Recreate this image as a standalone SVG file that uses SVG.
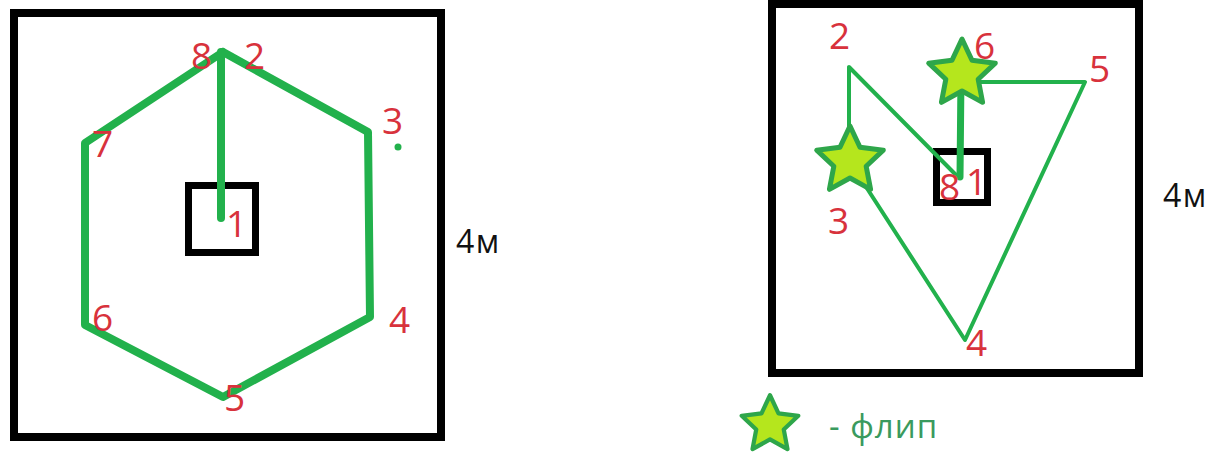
<svg xmlns="http://www.w3.org/2000/svg" width="1215" height="455" viewBox="0 0 1215 455">
<style>
.frame{fill:none;stroke:#000;stroke-width:8}
.small{fill:none;stroke:#000;stroke-width:7}
.path{fill:none;stroke:#22b14c;stroke-linejoin:round;stroke-linecap:round}
.thick{stroke-width:8}
.thin{stroke-width:4}
.lbl{font-family:"Open Sans","Liberation Sans",sans-serif;font-size:37px;fill:#d8323c}
.dim{font-family:"Open Sans","Liberation Sans",sans-serif;font-size:32px;fill:#111;letter-spacing:1.5px}
.leg{font-family:"Open Sans","Liberation Sans",sans-serif;font-size:33px;fill:#3a9a5e;letter-spacing:1px}
.star{fill:#b5e61d;stroke:#2ea64a;stroke-width:5;stroke-linejoin:round}
</style>
<defs>
<path id="star" d="M0,-35 L9.99,-13.75 L33.29,-10.82 L16.17,5.25 L20.57,28.32 L0,17 L-20.57,28.32 L-16.17,5.25 L-33.29,-10.82 L-9.99,-13.75 Z"/>
</defs>
<g id="left-room">
<rect class="frame" x="14" y="13" width="427" height="424"/>
<rect class="small" x="188.5" y="185.5" width="67" height="67"/>
</g>
<g id="right-room">
<rect class="frame" x="772" y="4" width="367" height="369"/>
<rect class="small" x="936.5" y="151.5" width="51" height="51"/>
</g>
<g id="connectors">
<polyline class="path thick" points="223,52 368,132 370,317 223,397 85,325 85,143 223,52"/>
<line class="path thick" x1="221" y1="52" x2="221" y2="218"/>
<circle cx="398" cy="147" r="3.5" fill="#22b14c"/>
<polyline class="path thin" points="958,177 849,67 849,150"/>
<polyline class="path thin" points="850,162 965,340 1085,82 962,82"/>
<line class="path" stroke-width="7" x1="960" y1="177" x2="961" y2="75"/>
</g>
<g id="flip-star-3"><use href="#star" class="star" transform="translate(850,161)"/></g>
<g id="flip-star-6"><use href="#star" class="star" transform="translate(962,74)"/></g>
<g id="labels-left">
<text class="lbl" x="191" y="69">8</text>
<text class="lbl" x="244" y="69">2</text>
<text class="lbl" x="382" y="134">3</text>
<text class="lbl" x="389" y="333">4</text>
<text class="lbl" x="224" y="411">5</text>
<text class="lbl" x="92" y="331">6</text>
<text class="lbl" x="92" y="157">7</text>
<text class="lbl" x="226" y="237">1</text>
<text class="dim" x="456" y="253">4м</text>
</g>
<g id="labels-right">
<text class="lbl" x="829" y="49">2</text>
<text class="lbl" x="974" y="59">6</text>
<text class="lbl" x="1089" y="82">5</text>
<text class="lbl" x="828" y="234">3</text>
<text class="lbl" x="939" y="200">8</text>
<text class="lbl" x="966" y="195">1</text>
<text class="lbl" x="966" y="356">4</text>
<text class="dim" x="1163" y="207">4м</text>
</g>
<g id="legend">
<use href="#star" class="star" transform="translate(770,425) scale(0.85)"/>
<text class="leg" x="829" y="438">- флип</text>
</g>
</svg>
